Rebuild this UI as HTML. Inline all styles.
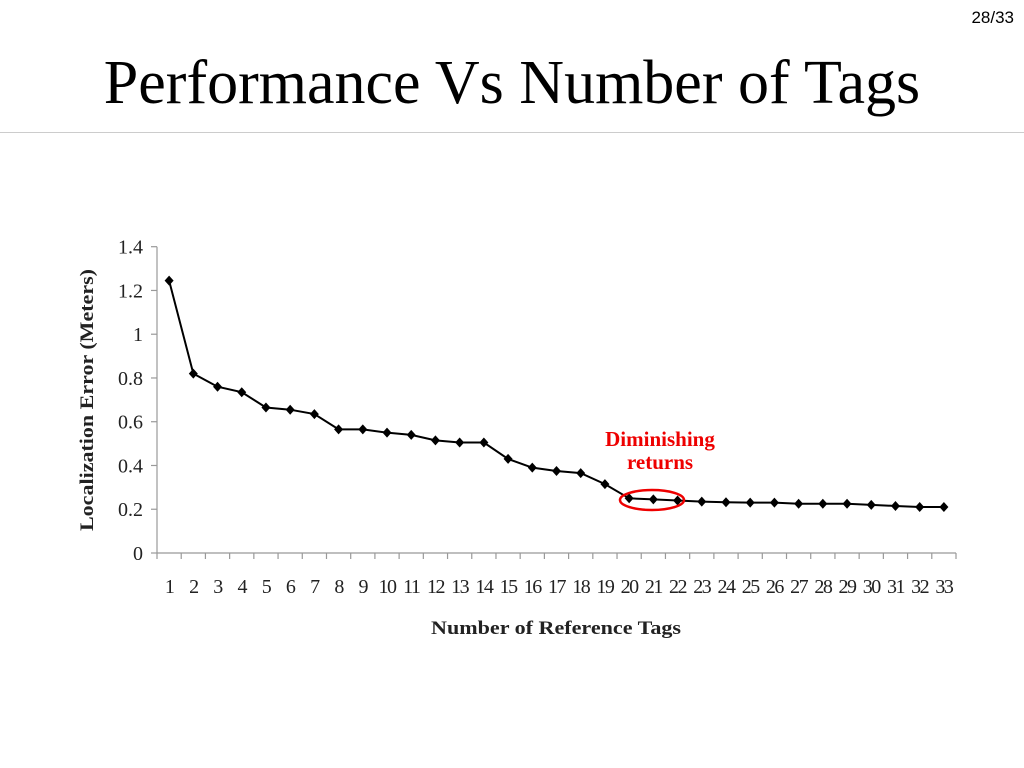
<!DOCTYPE html>
<html><head><meta charset="utf-8"><style>
body{margin:0;background:#fff;}
#root{position:relative;width:1024px;height:768px;overflow:hidden;background:#fff;font-family:"Liberation Serif",serif;}
</style></head><body>
<div id="root">
<div style="position:absolute;right:10px;top:8px;font-family:'Liberation Sans',sans-serif;font-size:17px;">28/33</div>
<div style="position:absolute;left:0;width:1024px;top:46px;text-align:center;font-size:62px;line-height:74px;">Performance Vs Number of Tags</div>
<div style="position:absolute;left:0;width:1024px;top:132px;height:1px;background:#ccc;"></div>
<svg id="chart" width="1024" height="768" style="position:absolute;left:0;top:0;"></svg>
</div>
<script>
const categories=[1,2,3,4,5,6,7,8,9,10,11,12,13,14,15,16,17,18,19,20,21,22,23,24,25,26,27,28,29,30,31,32,33];
const errorValues=[1.245,0.82,0.76,0.735,0.665,0.655,0.635,0.565,0.565,0.55,0.54,0.515,0.505,0.505,0.43,0.39,0.375,0.365,0.315,0.25,0.245,0.24,0.235,0.232,0.23,0.23,0.225,0.225,0.225,0.22,0.215,0.21,0.21];
const yTicks=[0,0.2,0.4,0.6,0.8,1,1.2,1.4];
const yTickLabels=["0","0.2","0.4","0.6","0.8","1","1.2","1.4"];
const NS="http://www.w3.org/2000/svg";
const svg=document.getElementById('chart');
const X0=157,X1=956,Y0=553,Y1=246.7,YMAX=1.4;
const bw=(X1-X0)/categories.length;
function xs(i){return X0+bw*(i+0.5);}
function ys(v){return Y0-(v/YMAX)*(Y0-Y1);}
function mk(t,a){const e=document.createElementNS(NS,t);for(const k in a)e.setAttribute(k,a[k]);svg.appendChild(e);return e;}
let e;
e=mk('line',{x1:X0,y1:Y1,x2:X0,y2:Y0,stroke:'#999','stroke-width':1.2});


e=mk('line',{x1:X0,y1:Y0,x2:X1,y2:Y0,stroke:'#999','stroke-width':1.2});


yTicks.forEach((v,i)=>{
 const y=ys(v);
 e=mk('line',{x1:X0-6,y1:y,x2:X0,y2:y,stroke:'#999','stroke-width':1.2});
 
 
 e=mk('text',{x:X0-14,y:y+7,'text-anchor':'end','font-size':20,'font-family':'Liberation Serif,serif',fill:'#222'});
 e.textContent=yTickLabels[i];
 
 
});
for(let i=0;i<=categories.length;i++){
 const x=X0+bw*i;
 e=mk('line',{x1:x,y1:Y0,x2:x,y2:Y0+6,stroke:'#999','stroke-width':1.2});
 
 
}
categories.forEach((c,i)=>{
 e=mk('text',{x:xs(i),y:Y0+40,'text-anchor':'middle','font-size':20,'letter-spacing':'-1.5','font-family':'Liberation Serif,serif',fill:'#222'});
 e.textContent=c;
 
 
});
e=mk('polyline',{points:errorValues.map((v,i)=>xs(i)+','+ys(v)).join(' '),fill:'none',stroke:'#000','stroke-width':2});


errorValues.forEach((v,i)=>{
 const x=xs(i),y=ys(v);
 e=mk('polygon',{points:`${x},${y-5} ${x+4.5},${y} ${x},${y+5} ${x-4.5},${y}`,fill:'#000'});
 
 
});
e=mk('text',{x:0,y:0,'text-anchor':'middle','font-size':19,'font-weight':'bold','font-family':'Liberation Serif,serif',fill:'#222',transform:`translate(93,400) rotate(-90)`,textLength:262,lengthAdjust:'spacingAndGlyphs'});
e.textContent='Localization Error (Meters)';


e=mk('text',{x:556,y:634,'text-anchor':'middle','font-size':19,'font-weight':'bold','font-family':'Liberation Serif,serif',fill:'#222',textLength:250,lengthAdjust:'spacingAndGlyphs'});
e.textContent='Number of Reference Tags';


e=mk('ellipse',{cx:652,cy:500,rx:32,ry:10,fill:'none',stroke:'#e00','stroke-width':2.5});


e=mk('text',{x:660,y:446,'text-anchor':'middle','font-size':21,'font-weight':'bold','font-family':'Liberation Serif,serif',fill:'#e00'});
e.textContent='Diminishing';


e=mk('text',{x:660,y:469,'text-anchor':'middle','font-size':21,'font-weight':'bold','font-family':'Liberation Serif,serif',fill:'#e00'});
e.textContent='returns';


</script>
</body></html>
